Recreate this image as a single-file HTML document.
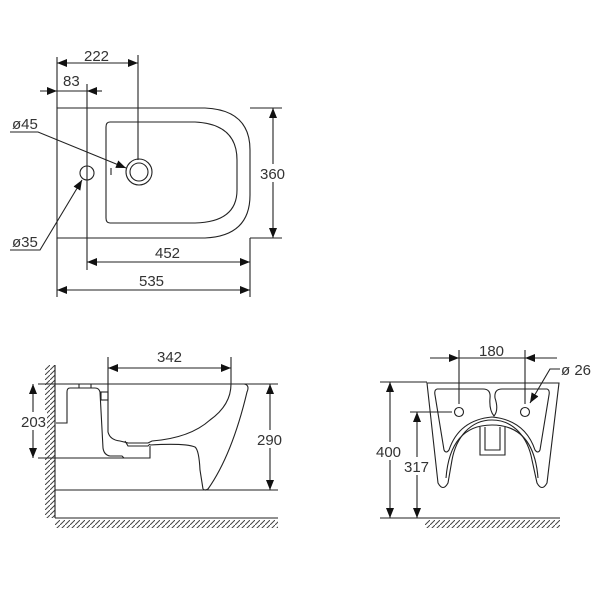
<!DOCTYPE html>
<html><head><meta charset="utf-8"><style>
html,body{margin:0;padding:0;background:#fff}
svg{display:block}
text{font-family:"Liberation Sans",sans-serif;font-size:15px;fill:#333}
</style></head><body>
<svg width="600" height="600" viewBox="0 0 600 600" xmlns="http://www.w3.org/2000/svg">
<defs>
<marker id="a" viewBox="0 0 10 8" refX="10" refY="4" markerWidth="10" markerHeight="8" markerUnits="userSpaceOnUse" orient="auto-start-reverse"><path d="M0,0L10,4L0,8Z" fill="#111"/></marker>
<pattern id="h" width="5" height="5" patternUnits="userSpaceOnUse"><path d="M0,5L5,0" stroke="#444" stroke-width="1"/></pattern>
</defs>
<g fill="none" stroke="#222" stroke-width="1.1">
<!-- TOP VIEW -->
<path d="M57,108 H205 Q250,110 250,150 V195 Q250,236 205,238 H57 Z"/>
<path d="M110,122 H195 Q237,124 237,160 V190 Q237,222 195,223 H110 Q106,223 106,218 V127 Q106,122 110,122 Z"/>
<circle cx="139" cy="172" r="13"/><circle cx="139" cy="172" r="9"/>
<circle cx="87" cy="173" r="7"/>
<line x1="111" y1="168" x2="111" y2="175"/>
<!-- extension lines -->
<line x1="57" y1="57" x2="57" y2="108"/>
<line x1="138" y1="55" x2="138" y2="160"/>
<line x1="87" y1="84" x2="87" y2="270"/>
<line x1="250" y1="238" x2="250" y2="297"/>
<line x1="57" y1="238" x2="57" y2="297"/>
<line x1="250" y1="108" x2="282" y2="108"/>
<line x1="250" y1="238" x2="282" y2="238"/>
<!-- dims -->
<line x1="57" y1="63" x2="138" y2="63" marker-start="url(#a)" marker-end="url(#a)"/>
<line x1="40" y1="91" x2="57" y2="91" marker-end="url(#a)"/>
<line x1="57" y1="91" x2="87" y2="91"/>
<line x1="102" y1="91" x2="87" y2="91" marker-end="url(#a)"/>
<line x1="273" y1="108" x2="273" y2="238" marker-start="url(#a)" marker-end="url(#a)"/>
<line x1="87" y1="262" x2="250" y2="262" marker-start="url(#a)" marker-end="url(#a)"/>
<line x1="57" y1="290" x2="250" y2="290" marker-start="url(#a)" marker-end="url(#a)"/>
<polyline points="10,132 38,132 126,168" marker-end="url(#a)"/>
<polyline points="10,250 40,250 82,180" marker-end="url(#a)"/>

<!-- SIDE VIEW -->
<rect x="45" y="365" width="10" height="153" fill="url(#h)" stroke="none"/>
<line x1="55" y1="365" x2="55" y2="518"/>
<line x1="55" y1="518" x2="278" y2="518"/>
<rect x="55" y="520" width="223" height="8" fill="url(#h)" stroke="none"/>
<line x1="38" y1="384" x2="278" y2="384"/>
<line x1="38" y1="458" x2="125" y2="458"/>
<line x1="55" y1="490" x2="278" y2="490"/>
<line x1="33" y1="384" x2="33" y2="458" marker-start="url(#a)" marker-end="url(#a)"/>
<line x1="270" y1="384" x2="270" y2="490" marker-start="url(#a)" marker-end="url(#a)"/>
<line x1="108" y1="357" x2="108" y2="384"/>
<line x1="231" y1="357" x2="231" y2="384"/>
<line x1="108" y1="368" x2="231" y2="368" marker-start="url(#a)" marker-end="url(#a)"/>
<path d="M244,384 Q250,385 247,392 Q232,455 208,489 Q205,491 203,489"/>
<path d="M108,384 V432 Q110,440 120,441 L128,443 H148 L152,441 Q190,438 210,420 Q231,405 231,384"/>
<path d="M125,441 L128,446 H148 L150,444"/>
<path d="M150,446 V458 H124 L122,456 H110 Q104,455 103,448 L100,392 Q99,388 95,388 H70 Q67,388 67,392 V423 H56"/>
<path d="M150,445 Q185,443 195,447 Q199,450 200,470 L203,489"/>
<rect x="101" y="392" width="7" height="8"/>
<line x1="79" y1="384" x2="79" y2="388"/><line x1="91" y1="384" x2="91" y2="388"/>

<!-- FRONT VIEW -->
<line x1="380" y1="382" x2="427" y2="382"/>
<line x1="380" y1="518" x2="560" y2="518"/>
<rect x="425" y="520" width="135" height="8" fill="url(#h)" stroke="none"/>
<line x1="410" y1="412" x2="452" y2="412"/>
<line x1="390" y1="382" x2="390" y2="518" marker-start="url(#a)" marker-end="url(#a)"/>
<line x1="417" y1="412" x2="417" y2="518" marker-start="url(#a)" marker-end="url(#a)"/>
<line x1="459" y1="350" x2="459" y2="404"/>
<line x1="525" y1="350" x2="525" y2="404"/>
<line x1="430" y1="358" x2="459" y2="358" marker-end="url(#a)"/>
<line x1="459" y1="358" x2="525" y2="358"/>
<line x1="557" y1="358" x2="525" y2="358" marker-end="url(#a)"/>
<polyline points="560,369 550,369 530,403" marker-end="url(#a)"/>
<path d="M427,383 H559 L547,483 Q542,492 537,483 L532,460 C528,438 514,420 492,420 C470,420 456,438 452,460 L448,483 Q443,492 438,483 Z"/>
<path d="M446,478 C449,440 466,425 492,425 C518,425 535,440 538,478"/>
<path d="M437,389 H483 Q491,389 490,398 Q489,410 494,416 Q499,410 495,398 Q494,389 502,389 H547 Q550,390 549,395 L540,450 Q538,454 535,450 Q525,420 492,417 M437,389 Q434,390 435,395 L444,450 Q446,454 449,450 Q459,420 492,417"/>
<path d="M480,427 V455 H505 V427"/>
<path d="M485,427 V450 H500 V427"/>
<circle cx="459" cy="412" r="4.5"/><circle cx="525" cy="412" r="4.5"/>
</g>
<g>
<text x="84" y="61">222</text>
<text x="63" y="86">83</text>
<text x="12" y="129">ø45</text>
<text x="12" y="247">ø35</text>
<rect x="261" y="164" width="26" height="18" fill="#fff"/>
<text x="260" y="179">360</text>
<text x="155" y="258">452</text>
<text x="139" y="286">535</text>
<text x="157" y="362">342</text>
<rect x="21" y="412" width="26" height="18" fill="#fff"/>
<text x="21" y="427">203</text>
<rect x="257" y="430" width="28" height="18" fill="#fff"/>
<text x="257" y="445">290</text>
<text x="479" y="356">180</text>
<text x="561" y="375">ø 26</text>
<rect x="376" y="442" width="28" height="18" fill="#fff"/>
<text x="376" y="457">400</text>
<rect x="404" y="457" width="28" height="18" fill="#fff"/>
<text x="404" y="472">317</text>
</g>
</svg>
</body></html>
